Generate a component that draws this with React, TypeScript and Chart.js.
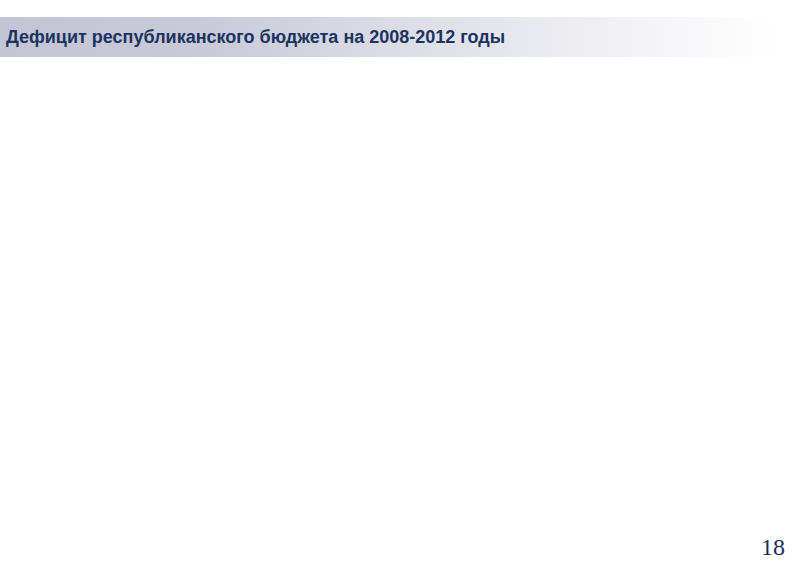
import { useEffect, useRef } from "react";
import { Chart, registerables } from "chart.js";

Chart.register(...registerables);

// Slide 18: the chart area of the source slide is empty, only the heading is shown
const years = ["2008", "2009", "2010", "2011", "2012"];
const deficit: (number | null)[] = [null, null, null, null, null];

const TITLE = "Дефицит республиканского бюджета на 2008-2012 годы";
const PAGE = "18";

export default function App() {
  const canvasRef = useRef<HTMLCanvasElement>(null);
  const chartRef = useRef<Chart | null>(null);

  useEffect(() => {
    if (!canvasRef.current) return;
    const ctx = canvasRef.current.getContext("2d");
    if (!ctx) return;

    if (chartRef.current) {
      chartRef.current.destroy();
      chartRef.current = null;
    }

    chartRef.current = new Chart(ctx, {
      type: "bar",
      data: {
        labels: years,
        datasets: [
          {
            label: "Дефицит",
            data: deficit,
            backgroundColor: "#1f3a68",
          },
        ],
      },
      options: {
        responsive: true,
        maintainAspectRatio: false,
        animation: false,
        scales: {
          x: { display: false },
          y: { display: false },
        },
        plugins: {
          legend: { display: false },
          tooltip: { enabled: false },
        },
      },
    });

    return () => {
      if (chartRef.current) {
        chartRef.current.destroy();
        chartRef.current = null;
      }
    };
  }, []);

  return (
    <div
      style={{
        position: "fixed",
        left: 0,
        top: 0,
        width: 794,
        height: 567,
        background: "#fff",
        overflow: "hidden",
      }}
    >
      <div
        style={{
          position: "absolute",
          left: 0,
          top: 17,
          width: 794,
          height: 40,
          background:
            "linear-gradient(to right, #c3c5d5 0%, #c8cad9 25%, #dfe0e8 55%, #f3f3f6 80%, #ffffff 98%)",
        }}
      />
      <div
        style={{
          position: "absolute",
          left: 6,
          top: 26,
          fontFamily: "'Liberation Sans', Arial, sans-serif",
          fontWeight: "bold",
          fontSize: 18,
          lineHeight: "22px",
          color: "#1b3361",
          whiteSpace: "nowrap",
        }}
      >
        {TITLE}
      </div>
      <div style={{ position: "absolute", left: 20, top: 70, width: 754, height: 450 }}>
        <canvas ref={canvasRef} />
      </div>
      <div
        style={{
          position: "absolute",
          right: 9,
          top: 533,
          fontFamily: "'Liberation Serif', 'Times New Roman', serif",
          fontSize: 24,
          lineHeight: "28px",
          color: "#1b2a5c",
        }}
      >
        {PAGE}
      </div>
    </div>
  );
}
